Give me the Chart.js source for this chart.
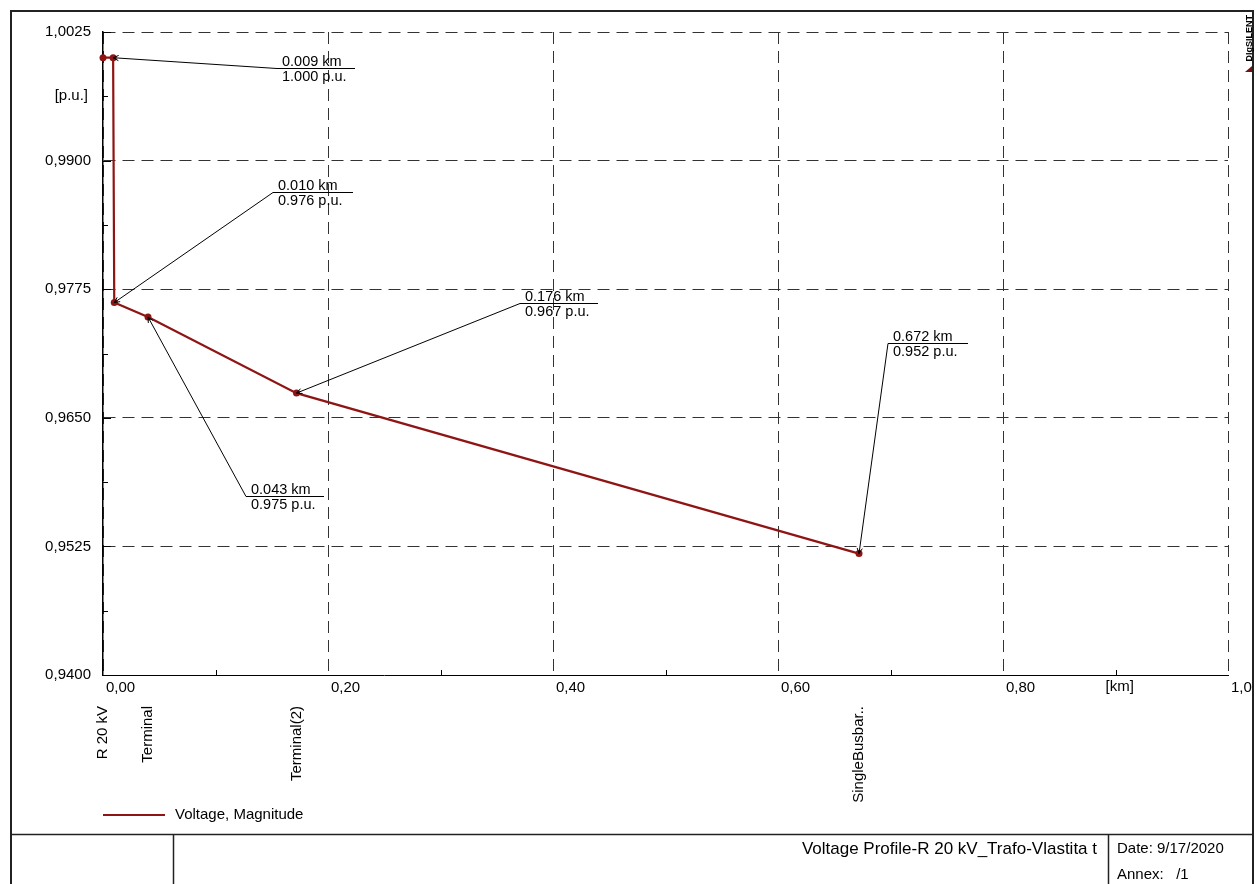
<!DOCTYPE html>
<html>
<head>
<meta charset="utf-8">
<script src="https://cdn.jsdelivr.net/npm/chart.js@4.4.0/dist/chart.umd.min.js"></script>
<style>
  html, body { margin: 0; padding: 0; background: #fff; }
  #wrap { width: 1257px; height: 884px; }
</style>
</head>
<body>
<div id="wrap"><canvas id="profile" width="1257" height="884"></canvas></div>
<script>
// profile data
const distanceKm = [0, 0.009, 0.010, 0.040, 0.172, 0.672];
const voltagePu = [1.0000, 1.0000, 0.9762, 0.9748, 0.9674, 0.9518];
const xTicks = [0, 0.2, 0.4, 0.6, 0.8, 1.0];
const yTicks = [0.94, 0.9525, 0.965, 0.9775, 0.99, 1.0025];
const stationNames = ["R 20 kV", "Terminal", "Terminal(2)", "SingleBusbar.."];
const stationIdx = [0, 3, 4, 5];
const annoIdx = [1, 2, 3, 4, 5];
const annoKm = ["0.009 km", "0.010 km", "0.043 km", "0.176 km", "0.672 km"];
const annoPu = ["1.000 p.u.", "0.976 p.u.", "0.975 p.u.", "0.967 p.u.", "0.952 p.u."];

// label box placement (x of underline start, y of underline, length)
const annoBox = [[277, 68, 78], [273, 192, 80], [246, 496, 78], [520, 303, 78], [888, 343, 80]];

const FONT = '"Liberation Sans", Arial, sans-serif';
const RED = "#8f1414";
const GRID = "#333";

const decor = {
  id: "decor",
  afterDatasetsDraw(chart) {
    const ctx = chart.ctx;
    const xs = chart.scales.x;
    const ys = chart.scales.y;
    const area = chart.chartArea;
    ctx.save();

    // inward ticks
    ctx.strokeStyle = "#000";
    ctx.lineWidth = 1;
    ctx.beginPath();
    for (let i = 0; i < yTicks.length; i++) {
      const y = Math.round(ys.getPixelForValue(yTicks[i])) + 0.5;
      ctx.moveTo(area.left, y);
      ctx.lineTo(area.left + 8, y);
      if (i < yTicks.length - 1) {
        const ym = Math.round(ys.getPixelForValue((yTicks[i] + yTicks[i + 1]) / 2)) + 0.5;
        ctx.moveTo(area.left, ym);
        ctx.lineTo(area.left + 5, ym);
      }
    }
    for (let i = 0; i < xTicks.length - 1; i++) {
      const xm = Math.round(xs.getPixelForValue((xTicks[i] + xTicks[i + 1]) / 2)) + 0.5;
      ctx.moveTo(xm, area.bottom);
      ctx.lineTo(xm, area.bottom - 5);
    }
    ctx.stroke();

    // annotations
    ctx.font = "14.5px " + FONT;
    ctx.fillStyle = "#000";
    ctx.lineWidth = 1;
    annoIdx.forEach((idx, k) => {
      const px = xs.getPixelForValue(distanceKm[idx]);
      const py = ys.getPixelForValue(voltagePu[idx]);
      const [bx, by, len] = annoBox[k];
      ctx.beginPath();
      ctx.moveTo(px, py);
      ctx.lineTo(bx, by + 0.5);
      ctx.lineTo(bx + len, by + 0.5);
      ctx.stroke();
      // small arrow head at the point
      const a = Math.atan2(by - py, bx - px);
      ctx.beginPath();
      ctx.moveTo(px + 6 * Math.cos(a + 0.45), py + 6 * Math.sin(a + 0.45));
      ctx.lineTo(px, py);
      ctx.lineTo(px + 6 * Math.cos(a - 0.45), py + 6 * Math.sin(a - 0.45));
      ctx.stroke();
      ctx.textAlign = "left";
      ctx.textBaseline = "alphabetic";
      ctx.fillText(annoKm[k], bx + 5, by - 2);
      ctx.fillText(annoPu[k], bx + 5, by + 13);
    });

    // unit labels
    ctx.font = "15px " + FONT;
    ctx.textBaseline = "middle";
    ctx.textAlign = "right";
    ctx.fillText("[p.u.]", 88, ys.getPixelForValue(0.99625));
    ctx.textAlign = "left";
    ctx.textBaseline = "top";
    ctx.fillText("[km]", xs.getPixelForValue(0.9) - 10, area.bottom + 4);

    // station names under the axis
    stationIdx.forEach((idx, k) => {
      ctx.save();
      ctx.translate(xs.getPixelForValue(distanceKm[idx]), 706);
      ctx.rotate(-Math.PI / 2);
      ctx.textAlign = "right";
      ctx.textBaseline = "middle";
      ctx.fillText(stationNames[k], 0, 0);
      ctx.restore();
    });

    // legend
    const ds = chart.data.datasets[0];
    ctx.strokeStyle = ds.borderColor;
    ctx.lineWidth = 2;
    ctx.beginPath();
    ctx.moveTo(103, 815);
    ctx.lineTo(165, 815);
    ctx.stroke();
    ctx.textAlign = "left";
    ctx.textBaseline = "middle";
    ctx.fillText(ds.label, 175, 815);

    // clip the last tick label at the frame
    ctx.fillStyle = "#fff";
    ctx.fillRect(1254, 0, 10, 884);

    // frame and title block
    ctx.strokeStyle = "#222";
    ctx.lineWidth = 2;
    ctx.beginPath();
    ctx.moveTo(11, 890);
    ctx.lineTo(11, 11);
    ctx.lineTo(1253, 11);
    ctx.lineTo(1253, 890);
    ctx.stroke();
    ctx.lineWidth = 1.5;
    ctx.beginPath();
    ctx.moveTo(10, 834.5);
    ctx.lineTo(1254, 834.5);
    ctx.moveTo(173.5, 834);
    ctx.lineTo(173.5, 884);
    ctx.moveTo(1108.5, 834);
    ctx.lineTo(1108.5, 884);
    ctx.stroke();

    ctx.fillStyle = "#000";
    ctx.textBaseline = "alphabetic";
    ctx.textAlign = "right";
    ctx.font = "17px " + FONT;
    ctx.fillText("Voltage Profile-R 20 kV_Trafo-Vlastita t", 1097, 854);
    ctx.font = "15px " + FONT;
    ctx.textAlign = "left";
    ctx.fillText("Date: 9/17/2020", 1117, 853);
    ctx.fillText("Annex:   /1", 1117, 879);

    // DIgSILENT mark
    ctx.save();
    ctx.translate(1250, 15);
    ctx.rotate(-Math.PI / 2);
    ctx.font = "bold 9px " + FONT;
    ctx.textAlign = "right";
    ctx.textBaseline = "middle";
    ctx.fillText("DIgSILENT", 0, 0);
    ctx.restore();
    ctx.fillStyle = "#7a0f0f";
    ctx.beginPath();
    ctx.moveTo(1252, 66);
    ctx.lineTo(1252, 72);
    ctx.lineTo(1245, 72);
    ctx.closePath();
    ctx.fill();

    ctx.restore();
  }
};

const fmtX = (v) => v.toFixed(2).replace(".", ",");
const fmtY = (v) => v.toFixed(4).replace(".", ",");

new Chart(document.getElementById("profile"), {
  type: "line",
  data: {
    datasets: [
      {
        label: "Voltage, Magnitude",
        data: distanceKm.map((d, i) => ({ x: d, y: voltagePu[i] })),
        borderColor: RED,
        backgroundColor: RED,
        borderWidth: 2.2,
        pointRadius: 3.5,
        pointBorderWidth: 0,
        tension: 0,
        clip: false,
      },
    ],
  },
  options: {
    responsive: false,
    animation: false,
    layout: { padding: { left: 0, top: 32, right: 29, bottom: 0 } },
    plugins: {
      legend: { display: false },
      tooltip: { enabled: false },
    },
    scales: {
      x: {
        type: "linear",
        min: 0,
        max: 1.0,
        afterBuildTicks: (scale) => {
          scale.ticks = xTicks.map((v) => ({ value: v }));
        },
        afterFit: (scale) => {
          scale.height = 209;
          scale.paddingLeft = 0;
          scale.paddingRight = 0;
        },
        grid: { color: GRID, lineWidth: 1, drawTicks: false },
        border: { display: true, color: "#000", width: 1, dash: [12, 7] },
        ticks: {
          align: "start",
          labelOffset: 3,
          padding: 4,
          maxRotation: 0,
          autoSkip: false,
          color: "#000",
          font: { family: FONT, size: 15 },
          callback: (v) => fmtX(v),
        },
      },
      y: {
        type: "linear",
        min: 0.94,
        max: 1.0025,
        afterBuildTicks: (scale) => {
          scale.ticks = yTicks.map((v) => ({ value: v }));
        },
        afterFit: (scale) => {
          scale.width = 103;
        },
        grid: { color: GRID, lineWidth: 1, drawTicks: false },
        border: { display: true, color: "#000", width: 1.5, dash: [12, 7] },
        ticks: {
          padding: 12,
          autoSkip: false,
          color: "#000",
          font: { family: FONT, size: 15 },
          callback: (v) => fmtY(v),
        },
      },
    },
  },
  plugins: [decor],
});
</script>
</body>
</html>
